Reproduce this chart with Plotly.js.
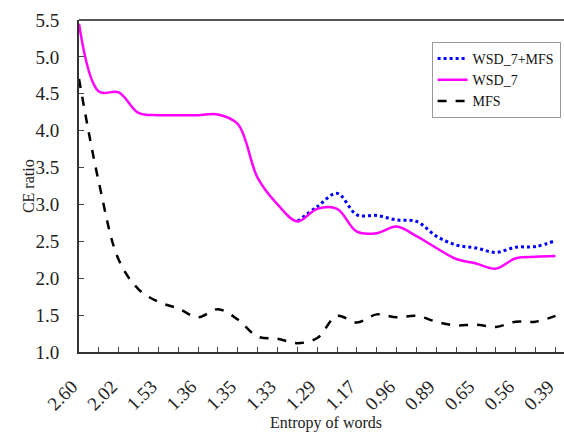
<!DOCTYPE html>
<html>
<head>
<meta charset="utf-8">
<script src="https://cdn.plot.ly/plotly-3.0.1.min.js"></script>
<style>
html,body{margin:0;padding:0;overflow:hidden;background:#fff;}
#chart{width:564px;height:432px;}
</style>
</head>
<body>
<div id="chart"></div>
<script>
// Category labels (every other tick is labelled)
var tickLabels = ["2.60","","2.02","","1.53","","1.36","","1.35","","1.33","","1.29","","1.17","","0.96","","0.89","","0.65","","0.56","","0.39"];
var idx = [0,1,2,3,4,5,6,7,8,9,10,11,12,13,14,15,16,17,18,19,20,21,22,23,24];

var wsd7 = [5.45,4.53,4.52,4.24,4.21,4.21,4.21,4.22,4.09,3.36,3.00,2.77,2.94,2.94,2.63,2.61,2.70,2.57,2.41,2.26,2.20,2.13,2.27,2.29,2.30];
var wsdIdx = [11,12,13,14,15,16,17,18,19,20,21,22,23,24];
var wsd7mfs = [2.77,2.97,3.15,2.86,2.85,2.79,2.77,2.57,2.45,2.41,2.35,2.42,2.43,2.51];
var mfs = [4.70,3.30,2.25,1.85,1.68,1.59,1.47,1.58,1.44,1.21,1.18,1.12,1.19,1.49,1.40,1.51,1.47,1.49,1.41,1.36,1.37,1.34,1.41,1.41,1.49];

var yTicks = [1.0,1.5,2.0,2.5,3.0,3.5,4.0,4.5,5.0,5.5];
var yTickText = ["1.0","1.5","2.0","2.5","3.0","3.5","4.0","4.5","5.0","5.5"];

var font = "Liberation Serif, Times New Roman, serif";

var traces = [
  {x: wsdIdx, y: wsd7mfs, name: "WSD_7+MFS", mode: "lines",
   line: {color: "#0000FF", width: 3, dash: "dot", shape: "spline", smoothing: 1}},
  {x: idx, y: wsd7, name: "WSD_7", mode: "lines",
   line: {color: "#FF00FF", width: 2.5, shape: "spline", smoothing: 1}},
  {x: idx, y: mfs, name: "MFS", mode: "lines",
   line: {color: "#000000", width: 2.5, dash: "dash", shape: "spline", smoothing: 1}}
];

var layout = {
  width: 564, height: 432,
  margin: {l: 79, r: 0, t: 20, b: 80},
  paper_bgcolor: "#fff", plot_bgcolor: "#fff",
  font: {family: font, size: 16, color: "#222"},
  showlegend: true,
  legend: {x: 0.727, y: 0.934, xanchor: "left", yanchor: "top",
           bgcolor: "#fff", bordercolor: "#999", borderwidth: 1, itemwidth: 30,
           font: {family: font, size: 14, color: "#111"}, tracegroupgap: 0},
  xaxis: {
    range: [0, 24.43], tickmode: "array", tickvals: idx, ticktext: tickLabels,
    tickangle: -45, ticks: "inside", ticklen: 5, tickcolor: "#444", tickwidth: 1,
    ticklabelstandoff: 14, ticklabelshift: -7, ticklabeloverflow: "allow",
    showline: true, linecolor: "#333", linewidth: 2,
    showgrid: false, zeroline: false,
    tickfont: {family: font, size: 19, color: "#222"}
  },
  yaxis: {
    range: [1.0, 5.5], tickmode: "array", tickvals: yTicks, ticktext: yTickText,
    ticks: "inside", ticklen: 5, tickcolor: "#444", tickwidth: 1,
    ticklabelstandoff: 14,
    showline: true, linecolor: "#333", linewidth: 2,
    showgrid: false, zeroline: false,
    tickfont: {family: font, size: 19, color: "#222"}
  },
  shapes: [
    {type: "line", xref: "paper", yref: "paper", x0: 0, x1: 1, y0: 1, y1: 1,
     line: {color: "#555", width: 2}}
  ],
  annotations: [
    {text: "Entropy of words", xref: "paper", yref: "paper", x: 0.509, y: -0.214,
     xanchor: "center", yanchor: "middle", showarrow: false,
     font: {family: font, size: 16, color: "#222"}},
    {text: "CE ratio", xref: "paper", yref: "paper", x: -0.105, y: 0.5,
     xanchor: "center", yanchor: "middle", textangle: -90, showarrow: false,
     font: {family: font, size: 16, color: "#222"}}
  ]
};

Plotly.newPlot("chart", traces, layout, {displayModeBar: false, staticPlot: true});
</script>
</body>
</html>
